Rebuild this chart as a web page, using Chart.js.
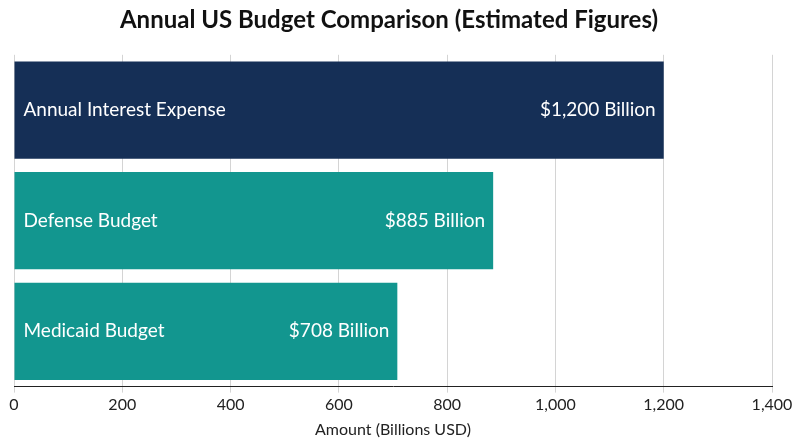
<!DOCTYPE html>
<html>
<head>
<meta charset="utf-8">
<script src="https://cdn.jsdelivr.net/npm/chart.js@4"></script>
<style>
  body { margin: 0; background: #fff; }
  #wrap { width: 800px; height: 447px; }
</style>
</head>
<body>
<div id="wrap"><canvas id="grafico"></canvas></div>
<script>
// dados
const categorias = ["Annual Interest Expense", "Defense Budget", "Medicaid Budget"];
const valores = [1200, 885, 708];
const rotulos = ["$1,200 Billion", "$885 Billion", "$708 Billion"];
const cores = ["#152f56", "#12968f", "#12968f"];

// escreve nome e valor dentro da barra
const rotulosNaBarra = {
  id: "rotulosNaBarra",
  afterDatasetsDraw(chart) {
    const ctx = chart.ctx;
    const meta = chart.getDatasetMeta(0);
    ctx.save();
    ctx.fillStyle = "#fff";
    ctx.font = "19px Lato";
    ctx.textBaseline = "middle";
    meta.data.forEach((bar, i) => {
      ctx.textAlign = "left";
      ctx.fillText(categorias[i], bar.base + 9, bar.y);
      ctx.textAlign = "right";
      ctx.fillText(rotulos[i], bar.x - 8, bar.y);
    });
    ctx.restore();
  }
};

new Chart(document.getElementById("grafico"), {
  type: "bar",
  data: {
    labels: categorias,
    datasets: [{
      data: valores,
      backgroundColor: cores,
      categoryPercentage: 1,
      barPercentage: 0.88
    }]
  },
  options: {
    indexAxis: "y",
    responsive: true,
    maintainAspectRatio: false,
    animation: false,
    layout: { padding: { left: 6, right: 28, top: 0, bottom: 4 } },
    plugins: {
      legend: { display: false },
      tooltip: { enabled: false },
      title: {
        display: true,
        text: "Annual US Budget Comparison (Estimated Figures)",
        color: "#111",
        font: { family: "Lato", size: 24, weight: "bold" },
        padding: { top: 6, bottom: 20 }
      }
    },
    scales: {
      x: {
        min: 0, max: 1400,
        ticks: { stepSize: 200, color: "#222", font: { family: "Lato", size: 16 } },
        grid: { color: "#d4d4d4", drawTicks: true, tickLength: 6 },
        border: { color: "#222" },
        title: { display: true, text: "Amount (Billions USD)", color: "#222", font: { family: "Lato", size: 16 }, padding: { top: 2 } }
      },
      y: {
        ticks: { display: false },
        grid: { display: false },
        border: { display: false }
      }
    }
  },
  plugins: [rotulosNaBarra]
});
</script>
</body>
</html>
